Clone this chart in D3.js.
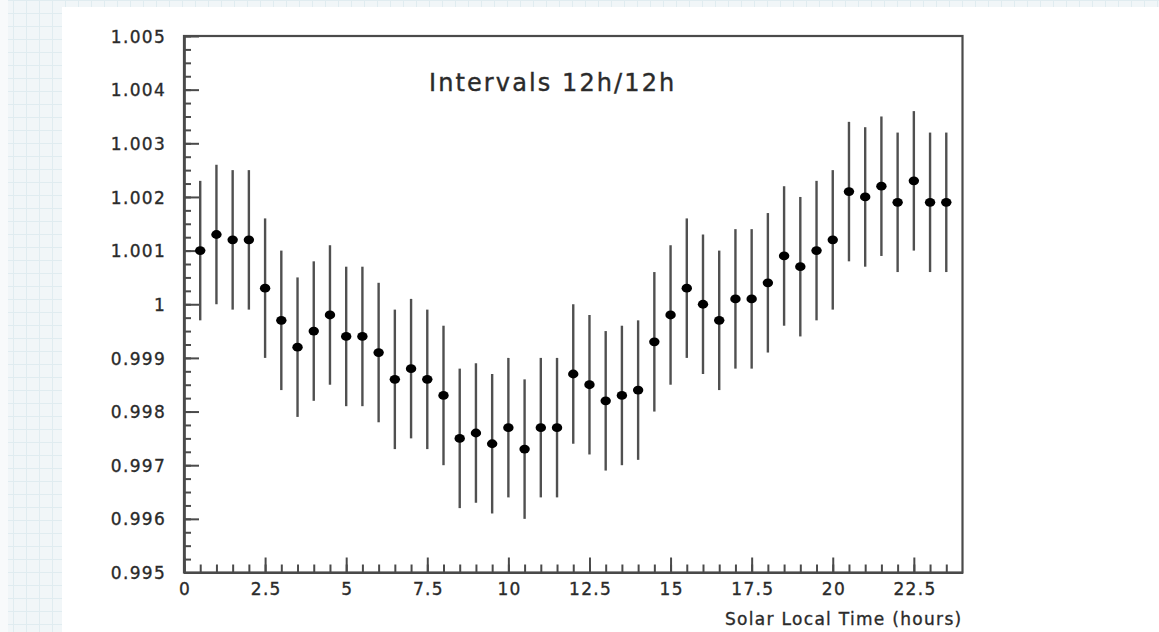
<!DOCTYPE html>
<html>
<head>
<meta charset="utf-8">
<script src="https://cdn.jsdelivr.net/npm/d3@7"></script>
<style>
  html, body { margin: 0; padding: 0; background: #ffffff; }
  svg { display: block; }
  text { font-family: "DejaVu Sans", Verdana, sans-serif; fill: #2a2a2a; }
</style>
</head>
<body>
<svg id="chart" width="1159" height="632"></svg>
<script>
// ---- data ----
const hours = [0.5, 1, 1.5, 2, 2.5, 3, 3.5, 4, 4.5, 5, 5.5, 6, 6.5, 7, 7.5, 8, 8.5, 9, 9.5, 10, 10.5, 11, 11.5, 12,
               12.5, 13, 13.5, 14, 14.5, 15, 15.5, 16, 16.5, 17, 17.5, 18, 18.5, 19, 19.5, 20, 20.5, 21, 21.5, 22, 22.5, 23, 23.5];
const ratio = [1.0010, 1.0013, 1.0012, 1.0012, 1.0003, 0.9997, 0.9992, 0.9995, 0.9998, 0.9994, 0.9994, 0.9991,
               0.9986, 0.9988, 0.9986, 0.9983, 0.9975, 0.9976, 0.9974, 0.9977, 0.9973, 0.9977, 0.9977, 0.9987,
               0.9985, 0.9982, 0.9983, 0.9984, 0.9993, 0.9998, 1.0003, 1.0000, 0.9997, 1.0001, 1.0001, 1.0004,
               1.0009, 1.0007, 1.0010, 1.0012, 1.0021, 1.0020, 1.0022, 1.0019, 1.0023, 1.0019, 1.0019];
const errors = [0.0013, 0.0013, 0.0013, 0.0013, 0.0013, 0.0013, 0.0013, 0.0013, 0.0013, 0.0013, 0.0013, 0.0013,
                0.0013, 0.0013, 0.0013, 0.0013, 0.0013, 0.0013, 0.0013, 0.0013, 0.0013, 0.0013, 0.0013, 0.0013,
                0.0013, 0.0013, 0.0013, 0.0013, 0.0013, 0.0013, 0.0013, 0.0013, 0.0013, 0.0013, 0.0013, 0.0013,
                0.0013, 0.0013, 0.0013, 0.0013, 0.0013, 0.0013, 0.0013, 0.0013, 0.0013, 0.0013, 0.0013];
const xTickValues = [0, 2.5, 5, 7.5, 10, 12.5, 15, 17.5, 20, 22.5];
const xTickLabels = ["0", "2.5", "5", "7.5", "10", "12.5", "15", "17.5", "20", "22.5"];
const yTickValues = [0.995, 0.996, 0.997, 0.998, 0.999, 1.000, 1.001, 1.002, 1.003, 1.004, 1.005];
const yTickLabels = ["0.995", "0.996", "0.997", "0.998", "0.999", "1", "1.001", "1.002", "1.003", "1.004", "1.005"];
const titleText = "Intervals 12h/12h";
const xAxisTitle = "Solar Local Time (hours)";

// ---- layout ----
const svg = d3.select("#chart");
const W = 1159, H = 632;
const plot = { left: 184, right: 962.5, top: 36, bottom: 572.5 };
const axisColor = "#4a4a4a";

// background: grid paper strips
const bg = svg.append("g");
bg.append("rect").attr("x", 0).attr("y", 0).attr("width", W).attr("height", H).attr("fill", "#f1f6f8");
const gridStep = 13;
bg.selectAll("line.gv").data(d3.range(0, W, gridStep)).join("line")
  .attr("x1", d => d + 0.5).attr("x2", d => d + 0.5).attr("y1", 0).attr("y2", H)
  .attr("stroke", "#e0ecf0").attr("stroke-width", 1);
bg.selectAll("line.gh").data(d3.range(0, H, gridStep)).join("line")
  .attr("y1", d => d + 0.5).attr("y2", d => d + 0.5).attr("x1", 0).attr("x2", W)
  .attr("stroke", "#e0ecf0").attr("stroke-width", 1);
bg.append("rect").attr("x", 0).attr("y", 0).attr("width", 8).attr("height", H).attr("fill", "#f8fafb");
// white panel
svg.append("rect").attr("x", 62).attr("y", 7).attr("width", W - 62).attr("height", H - 7).attr("fill", "#ffffff");

// ---- scales ----
const x = d3.scaleLinear().domain([0, 24]).range([plot.left, plot.right]);
const y = d3.scaleLinear().domain([0.995, 1.005]).range([plot.bottom, plot.top]);

const fontSize = 17;
const ls = 1.3;

// minor ticks
const yMinor = svg.append("g").attr("transform", `translate(${plot.left},0)`)
  .call(d3.axisLeft(y).tickValues(d3.range(0, 41).map(i => 0.995 + i * 0.00025)).tickSizeInner(-7).tickSizeOuter(0).tickFormat(""));
const xMinor = svg.append("g").attr("transform", `translate(0,${plot.bottom})`)
  .call(d3.axisBottom(x).tickValues(d3.range(0, 48).map(i => i * 0.5)).tickSizeInner(-8).tickSizeOuter(0).tickFormat(""));

// major ticks + labels
const yAxis = svg.append("g").attr("transform", `translate(${plot.left},0)`)
  .call(d3.axisLeft(y).tickValues(yTickValues).tickSizeInner(-15).tickSizeOuter(0).tickPadding(18)
    .tickFormat((d, i) => yTickLabels[i]));
const xAxis = svg.append("g").attr("transform", `translate(0,${plot.bottom})`)
  .call(d3.axisBottom(x).tickValues(xTickValues).tickSizeInner(-15).tickSizeOuter(0).tickPadding(10)
    .tickFormat((d, i) => xTickLabels[i]));

[yMinor, xMinor, yAxis, xAxis].forEach(g => {
  g.selectAll("path.domain").attr("stroke", axisColor).attr("stroke-width", 2.2);
  g.selectAll(".tick line").attr("stroke", axisColor).attr("stroke-width", 2);
  g.selectAll(".tick text").attr("font-size", fontSize).attr("fill", "#2e2e2e")
    .attr("stroke", "#2e2e2e").attr("stroke-width", 0.35)
    .attr("letter-spacing", ls).style("font-family", '"DejaVu Sans", Verdana, sans-serif');
});
yAxis.selectAll(".tick text").attr("dy", "0.36em");
xAxis.selectAll(".tick text").attr("dx", ls / 2);

// frame top & right
svg.append("rect")
  .attr("x", plot.left).attr("y", plot.top)
  .attr("width", plot.right - plot.left).attr("height", plot.bottom - plot.top)
  .attr("fill", "none").attr("stroke", axisColor).attr("stroke-width", 2.2);

// ---- error bars ----
const pts = hours.map((h, i) => ({ h, v: ratio[i], e: errors[i] }));
svg.append("g").selectAll("line").data(pts).join("line")
  .attr("x1", d => x(d.h)).attr("x2", d => x(d.h))
  .attr("y1", d => y(d.v + d.e)).attr("y2", d => y(d.v - d.e))
  .attr("stroke", "#505050").attr("stroke-width", 2.4);

// ---- markers ----
svg.append("g").selectAll("ellipse").data(pts).join("ellipse")
  .attr("cx", d => x(d.h)).attr("cy", d => y(d.v))
  .attr("rx", 5.2).attr("ry", 4.4).attr("fill", "#000");

// ---- texts ----
svg.append("text").attr("x", 429).attr("y", 91)
  .attr("font-size", 24).attr("letter-spacing", 2.1)
  .attr("fill", "#2e2e2e").attr("stroke", "#2e2e2e").attr("stroke-width", 0.4).text(titleText);
svg.append("text").attr("x", plot.right).attr("y", 625)
  .attr("text-anchor", "end").attr("font-size", fontSize).attr("letter-spacing", ls)
  .attr("fill", "#2e2e2e").attr("stroke", "#2e2e2e").attr("stroke-width", 0.35).text(xAxisTitle);
</script>
</body>
</html>
